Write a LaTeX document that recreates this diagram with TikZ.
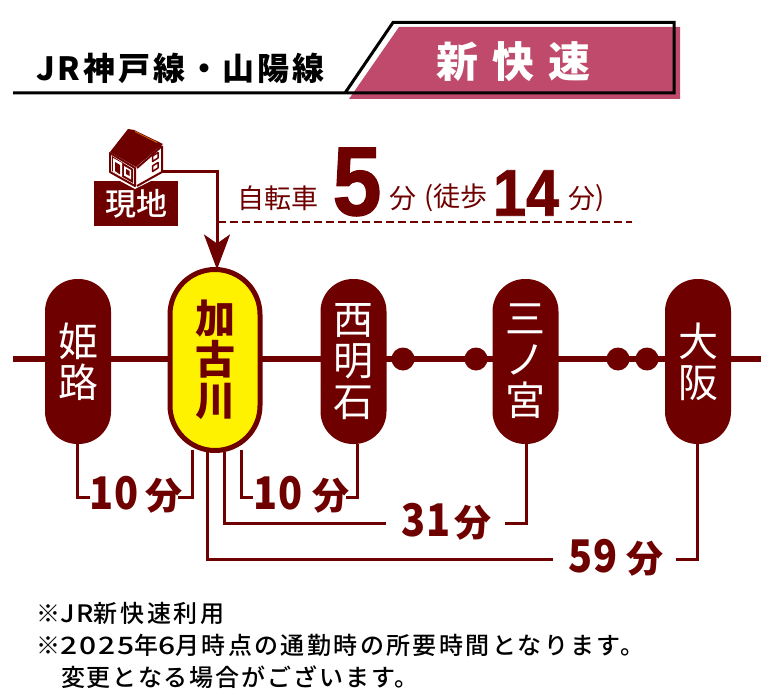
\documentclass[tikz,border=0pt]{standalone}
\usepackage{fontspec}
\setmainfont{Noto Sans CJK JP}
\newfontfamily\latinb{Liberation Sans}[BoldFeatures={FakeBold=1.2,FakeStretch=0.9}]
\newfontfamily\jpmed{Noto Sans CJK JP Medium}
\newfontfamily\jpnote{Noto Sans CJK JP Medium}[LetterSpace=8]
\newfontfamily\jpnoteA{Noto Sans CJK JP Medium}[LetterSpace=11]
\newfontfamily\jpnoteB{Noto Sans CJK JP Medium}[LetterSpace=10]
\newfontfamily\jpnum{Noto Sans CJK JP Medium}[LetterSpace=8,FakeStretch=1.25]
\newfontfamily\jplat{Noto Sans CJK JP Medium}[LetterSpace=8,FakeStretch=1.1]
\newfontfamily\jptitle{Noto Sans CJK JP}[LetterSpace=9]
\newfontfamily\jpdigit{Noto Sans CJK JP}[FakeStretch=0.88,LetterSpace=4]
\usetikzlibrary{arrows.meta}
\definecolor{dred}{HTML}{6F0000}
\definecolor{rose}{HTML}{BF4A6C}
\newcommand{\mins}[3]{{\fontsize{45}{45}\jpdigit\bfseries #1}\hspace{#3}{\fontsize{37}{37}\selectfont\bfseries #2}}
\newcommand{\nd}[1]{{\jpnum #1}}
\newcommand{\nl}[1]{{\jplat #1}}
\tikzset{
  every node/.style={inner sep=0pt,outer sep=0pt},
  capsule/.style={draw=none,fill=dred,rounded corners=32.5pt,minimum width=66pt,minimum height=165pt,text=white,align=center,font=\fontsize{40}{44}\selectfont},
  hub/.style={draw=dred,line width=5pt,fill=yellow,rounded corners=45pt,minimum width=90pt,minimum height=181pt,text=dred,align=center,font=\fontsize{40}{44}\selectfont\bfseries},
  stopdot/.style={circle,fill=dred,minimum size=23pt},
  conn/.style={draw=dred,line width=3pt},
  time/.style={text=dred,anchor=west},
  note/.style={anchor=west,text=black},
  dredtext/.style={text=dred,font=\fontsize{27}{30}\selectfont}
}
\begin{document}
\begin{tikzpicture}[x=1pt,y=-1pt]
\useasboundingbox (0,0) rectangle (767,700);
% header
\fill[rose] (399,27) -- (680,27) -- (680,99) -- (349,99) -- cycle;
\draw[black,line width=3pt] (13,93) -- (674,93) -- (674,22.5) -- (393,22.5) -- (345,93);
\node[text=black,font=\fontsize{32}{34}\jptitle\bfseries] (title) at (180.5,68) {JR神戸線・山陽線};
\node[text=white,font=\bfseries\fontsize{42}{44}\selectfont] (kind) at (513.5,62) {新\hspace{14pt}快\hspace{14pt}速};
% line
\coordinate (lineL) at (13,359);
\coordinate (lineR) at (761,359);
\draw[dred,line width=6pt] (lineL) -- (lineR);
\node[stopdot] (d1) at (403,359) {};
\node[stopdot] (d2) at (476,359) {};
\node[stopdot] (d3) at (618,359) {};
\node[stopdot] (d4) at (647,359) {};
% stations
\node[capsule] (himeji) at (78,361.5) {姫\\[-3pt]路};
\node[hub] (kako) at (215,360) {加\\[-3pt]古\\[-3pt]川};
\node[capsule] (nishi) at (353.5,361.5) {西\\[-3pt]明\\[-3pt]石};
\node[capsule] (sanno) at (525.5,361.5) {三\\[-3pt]ノ\\[-3pt]宮};
\node[capsule] (osaka) at (698,361.5) {大\\[-3pt]阪};
% house
\node[fill=dred,minimum width=84pt,minimum height=45pt,text=white,font=\fontsize{31}{34}\jpmed] (genchi) at (136,204) {現地};
\begin{scope}[line join=round]
\fill[white] (107,150) -- (136,170) -- (165,143) -- (165,174) -- (135,189) -- (107,174) -- cycle;
\fill[dred] (128,129) -- (134,130) -- (163,144) -- (136,167) -- (110,152) -- cycle;
\draw[dred,line width=2pt] (110,153) -- (135,168) -- (135,186) -- (110,172) -- cycle;
\draw[dred,line width=2pt] (162,146) -- (137,168);
\draw[dred,line width=2pt] (162,146) -- (162,172) -- (137,186);
\fill[dred] (112,156) -- (133,169) -- (133,183) -- (112,171) -- cycle;
\fill[white] (113,158) -- (122,163) -- (122,177) -- (113,171.5) -- cycle;
\fill[dred] (115,162) -- (120,165) -- (120,174.5) -- (115,171) -- cycle;
\fill[white] (124,166) -- (131,170) -- (131,179.5) -- (124,175.5) -- cycle;
\fill[dred] (126,169) -- (129.5,171) -- (129.5,176) -- (126,174) -- cycle;
\draw[dred,line width=1.5pt] (152.5,156) -- (158,152.5) -- (158,158) -- (152.5,161.5) -- cycle;
\draw[dred,line width=1.5pt] (152.5,166) -- (158,162.5) -- (158,168) -- (152.5,171.5) -- cycle;
\draw[orange!80!black,line width=0.8pt] (135,131.5) -- (157,142.5);
\end{scope}
\coordinate (houseR) at (162,172);
\coordinate (bend) at (217,172);
\draw[conn,-{Stealth[length=35pt,width=26pt,inset=9pt]}] (houseR) -- (bend) -- (kako.north -| bend);
% walking line
\coordinate (dashL) at (218,222);
\coordinate (dashR) at (632,222);
\draw[dred,line width=2.5pt,dash pattern=on 8pt off 4pt] (dashL) -- (dashR);
\node[dredtext,anchor=west] (bike) at (237,198) {自転車};
\node[text=dred,anchor=center,font=\latinb\bfseries\fontsize{98}{98}\selectfont] (five) at (357,182) {5};
\node[dredtext,anchor=west] (m1) at (389,199) {分};
\node[dredtext,anchor=west] (paren1) at (424,198) {(徒歩};
\node[text=dred,anchor=center,font=\latinb\bfseries\fontsize{66}{66}\selectfont] (fourteen) at (526,193) {14};
\node[dredtext,anchor=west] (m2) at (568,199) {分};
\node[dredtext,anchor=west] (paren2) at (595,198) {)};
% times
\node[time] (t1) at (89,495) {\mins{10}{分}{6pt}};
\node[time] (t2) at (253,495) {\mins{10}{分}{9pt}};
\node[time] (t3) at (401,522) {\mins{31}{分}{3pt}};
\node[time] (t4) at (568,558) {\mins{59}{分}{8pt}};
\coordinate (kA) at (192,450);
\coordinate (kB) at (241,450);
\coordinate (kC) at (224,452);
\coordinate (kD) at (207,452);
\coordinate (hA) at (77,444);
\coordinate (nA) at (357,444);
\coordinate (sA) at (526,444);
\coordinate (oA) at (697,444);
\coordinate (t1r) at (178,497);
\coordinate (t2r) at (346,497);
\coordinate (t3r) at (505,523);
\coordinate (t4r) at (676,559);
\coordinate (t1l) at (90,497);
\coordinate (t2l) at (253,497);
\coordinate (t3l) at (386,523);
\coordinate (t4l) at (553,559);
\draw[conn] (hA) |- (t1l);
\draw[conn] (kA) |- (t1r);
\draw[conn] (kB) |- (t2l);
\draw[conn] (nA) |- (t2r);
\draw[conn] (kC) |- (t3l);
\draw[conn] (sA) |- (t3r);
\draw[conn] (kD) |- (t4l);
\draw[conn] (oA) |- (t4r);
% notes
\node[note,font=\fontsize{24}{26}\jpnoteA] (n1) at (36,613) {※\nl{JR}新快速利用};
\node[note,font=\fontsize{24}{26}\jpnoteB] (n2) at (36,645) {※\nd{2025}年\nd{6}月時点の通勤時の所要時間となります。};
\node[note,font=\fontsize{24}{26}\jpnote] (n3) at (61,677) {変更となる場合がございます。};
\end{tikzpicture}
\end{document}
